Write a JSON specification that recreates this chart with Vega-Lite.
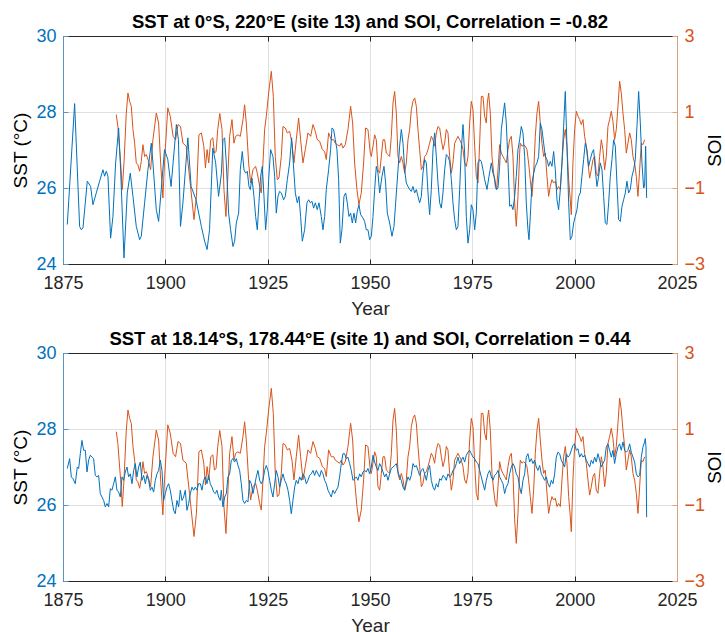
{
  "$schema": "https://vega.github.io/schema/vega-lite/v6.json",
  "padding": {"left": 11, "top": 12, "right": 0, "bottom": 0},
  "spacing": 11,
  "config": {
    "font": "Liberation Sans",
    "view": {"stroke": null},
    "axis": {
      "labelFontSize": 18,
      "titleFontSize": 19,
      "titleFontWeight": "normal",
      "labelColor": "#262626",
      "titleColor": "#262626",
      "tickColor": "#262626",
      "domainColor": "#262626",
      "gridColor": "#dfdfdf",
      "gridOpacity": 1,
      "tickSize": -5,
      "labelPadding": 12,
      "labelFlush": false,
      "domainWidth": 1,
      "tickWidth": 1
    },
    "axisX": {"labelPadding": 15},
    "title": {"fontSize": 18.5, "fontWeight": "bold", "color": "#000000", "offset": -4}
  },
  "datasets": {
    "soi": [
      {"year": 1888.02, "v": 0.93}, {"year": 1888.4, "v": 0.62}, {"year": 1889.08, "v": -0.34}, {"year": 1889.48, "v": -1.04},
      {"year": 1889.9, "v": -0.34}, {"year": 1890.46, "v": 0.97}, {"year": 1890.87, "v": 1.5}, {"year": 1891.28, "v": 1.28},
      {"year": 1891.68, "v": 1.15}, {"year": 1892.09, "v": 0.54}, {"year": 1892.5, "v": 0.18}, {"year": 1892.9, "v": -0.34},
      {"year": 1893.3, "v": -0.39}, {"year": 1893.72, "v": -0.56}, {"year": 1894.12, "v": -0.3}, {"year": 1894.53, "v": 0.14},
      {"year": 1894.94, "v": -0.17}, {"year": 1895.35, "v": -0.12}, {"year": 1895.92, "v": -0.3}, {"year": 1896.4, "v": -0.52},
      {"year": 1896.97, "v": 0.27}, {"year": 1897.79, "v": 0.97}, {"year": 1898.36, "v": 0.71}, {"year": 1898.85, "v": -0.34},
      {"year": 1899.4, "v": -1.26}, {"year": 1899.8, "v": -0.34}, {"year": 1900.6, "v": 1.11}, {"year": 1901.2, "v": 0.89},
      {"year": 1901.9, "v": 0.36}, {"year": 1902.5, "v": 0.27}, {"year": 1903.1, "v": 0.67}, {"year": 1903.7, "v": 0.62},
      {"year": 1904.3, "v": 0.18}, {"year": 1905.1, "v": 0.1}, {"year": 1905.9, "v": -0.69}, {"year": 1907.0, "v": -1.83},
      {"year": 1907.6, "v": -1.22}, {"year": 1908.2, "v": 0.4}, {"year": 1908.8, "v": 0.45}, {"year": 1909.4, "v": 0.1},
      {"year": 1909.8, "v": -0.47}, {"year": 1910.2, "v": 0.01}, {"year": 1910.6, "v": -0.34}, {"year": 1911.1, "v": 0.27},
      {"year": 1911.6, "v": 0.32}, {"year": 1912.0, "v": -0.08}, {"year": 1912.4, "v": -0.04}, {"year": 1912.8, "v": 0.54},
      {"year": 1913.3, "v": 0.96}, {"year": 1913.84, "v": 0.54}, {"year": 1914.32, "v": -1.04}, {"year": 1914.81, "v": -1.75},
      {"year": 1915.3, "v": -0.61}, {"year": 1915.71, "v": 0.36}, {"year": 1916.28, "v": 0.8}, {"year": 1916.77, "v": 0.18},
      {"year": 1917.17, "v": 0.36}, {"year": 1917.74, "v": 0.4}, {"year": 1918.31, "v": 0.36}, {"year": 1918.97, "v": 0.8},
      {"year": 1919.37, "v": 1.19}, {"year": 1919.78, "v": 0.71}, {"year": 1920.35, "v": -0.34}, {"year": 1920.84, "v": -0.87},
      {"year": 1921.41, "v": -0.52}, {"year": 1922.06, "v": -0.43}, {"year": 1922.47, "v": -0.61}, {"year": 1923.04, "v": -0.96},
      {"year": 1923.44, "v": -1.13}, {"year": 1923.85, "v": -0.34}, {"year": 1924.26, "v": 0.54}, {"year": 1924.67, "v": 0.89},
      {"year": 1925.24, "v": 1.5}, {"year": 1925.89, "v": 2.07}, {"year": 1926.38, "v": 1.41}, {"year": 1926.86, "v": -0.17},
      {"year": 1927.35, "v": -0.78}, {"year": 1927.76, "v": -0.74}, {"year": 1928.33, "v": -0.17}, {"year": 1928.74, "v": 0.62},
      {"year": 1929.31, "v": 0.58}, {"year": 1929.8, "v": 0.45}, {"year": 1930.37, "v": 0.49}, {"year": 1930.94, "v": 0.18},
      {"year": 1931.42, "v": -0.34}, {"year": 1931.99, "v": 0.27}, {"year": 1932.56, "v": 0.84}, {"year": 1933.05, "v": 0.27},
      {"year": 1933.62, "v": -0.34}, {"year": 1934.19, "v": 0.01}, {"year": 1934.84, "v": 0.45}, {"year": 1935.5, "v": 0.36},
      {"year": 1936.07, "v": 0.67}, {"year": 1936.64, "v": 0.49}, {"year": 1937.12, "v": 0.27}, {"year": 1937.7, "v": 0.23},
      {"year": 1938.35, "v": 0.01}, {"year": 1938.91, "v": -0.04}, {"year": 1939.32, "v": -0.25}, {"year": 1939.89, "v": 0.45},
      {"year": 1940.54, "v": 0.27}, {"year": 1941.11, "v": 0.27}, {"year": 1941.52, "v": 0.18}, {"year": 1942.01, "v": 0.14},
      {"year": 1942.58, "v": 0.1}, {"year": 1942.99, "v": 0.18}, {"year": 1943.4, "v": 0.05}, {"year": 1943.96, "v": 0.14},
      {"year": 1944.62, "v": 0.54}, {"year": 1945.27, "v": 1.15}, {"year": 1945.76, "v": 0.71}, {"year": 1946.24, "v": -0.34},
      {"year": 1946.81, "v": -1.04}, {"year": 1947.3, "v": -1.44}, {"year": 1947.87, "v": -1.13}, {"year": 1948.44, "v": -0.34},
      {"year": 1948.93, "v": 0.58}, {"year": 1949.5, "v": 0.54}, {"year": 1950.07, "v": -0.08}, {"year": 1950.32, "v": -0.17},
      {"year": 1950.73, "v": 0.1}, {"year": 1951.14, "v": 0.4}, {"year": 1951.54, "v": 0.27}, {"year": 1951.95, "v": -0.52},
      {"year": 1952.36, "v": -0.61}, {"year": 1952.77, "v": -0.17}, {"year": 1953.17, "v": 0.27}, {"year": 1953.58, "v": 0.27},
      {"year": 1953.99, "v": -0.08}, {"year": 1954.39, "v": -0.12}, {"year": 1954.8, "v": -0.17}, {"year": 1955.21, "v": 0.36},
      {"year": 1955.62, "v": 1.24}, {"year": 1956.02, "v": 1.54}, {"year": 1956.43, "v": 0.97}, {"year": 1956.84, "v": -0.17},
      {"year": 1957.24, "v": -0.34}, {"year": 1957.65, "v": -0.17}, {"year": 1958.06, "v": -0.34}, {"year": 1958.47, "v": -0.61},
      {"year": 1958.87, "v": -0.34}, {"year": 1959.28, "v": 0.27}, {"year": 1959.69, "v": 0.54}, {"year": 1960.09, "v": 1.06},
      {"year": 1960.5, "v": 1.28}, {"year": 1960.91, "v": 1.37}, {"year": 1961.32, "v": 1.15}, {"year": 1961.72, "v": 0.54},
      {"year": 1962.13, "v": 0.01}, {"year": 1962.54, "v": -0.52}, {"year": 1962.94, "v": -0.43}, {"year": 1963.35, "v": -0.17},
      {"year": 1963.76, "v": -0.12}, {"year": 1964.17, "v": 0.01}, {"year": 1964.57, "v": 0.18}, {"year": 1964.98, "v": 0.36},
      {"year": 1965.39, "v": 0.27}, {"year": 1965.79, "v": 0.1}, {"year": 1966.2, "v": 0.45}, {"year": 1966.61, "v": 0.62},
      {"year": 1967.02, "v": 0.58}, {"year": 1967.42, "v": 0.27}, {"year": 1967.83, "v": 0.01}, {"year": 1968.24, "v": 0.18},
      {"year": 1968.64, "v": 0.54}, {"year": 1969.05, "v": 0.45}, {"year": 1969.46, "v": -0.17}, {"year": 1969.87, "v": -0.61},
      {"year": 1970.27, "v": -0.34}, {"year": 1970.68, "v": 0.18}, {"year": 1971.09, "v": 0.27}, {"year": 1971.49, "v": 0.36},
      {"year": 1971.9, "v": 0.27}, {"year": 1972.31, "v": 0.18}, {"year": 1972.72, "v": 0.01}, {"year": 1973.12, "v": -0.34},
      {"year": 1973.53, "v": -0.43}, {"year": 1973.94, "v": -0.17}, {"year": 1974.35, "v": 0.71}, {"year": 1974.75, "v": 1.28},
      {"year": 1975.16, "v": 1.06}, {"year": 1975.57, "v": 0.1}, {"year": 1975.97, "v": -0.69}, {"year": 1976.38, "v": -0.87},
      {"year": 1976.79, "v": 0.18}, {"year": 1977.19, "v": 1.41}, {"year": 1977.6, "v": 1.41}, {"year": 1978.01, "v": 0.89},
      {"year": 1978.42, "v": 0.71}, {"year": 1978.66, "v": 1.24}, {"year": 1978.99, "v": 1.5}, {"year": 1979.39, "v": 0.97},
      {"year": 1979.8, "v": -0.17}, {"year": 1980.21, "v": -0.61}, {"year": 1980.62, "v": -0.96}, {"year": 1980.94, "v": -1.04},
      {"year": 1981.27, "v": -0.52}, {"year": 1981.67, "v": 0.14}, {"year": 1982.08, "v": -0.08}, {"year": 1982.49, "v": -0.17},
      {"year": 1982.89, "v": -0.25}, {"year": 1983.3, "v": -0.34}, {"year": 1983.71, "v": 0.01}, {"year": 1984.12, "v": 0.27},
      {"year": 1984.52, "v": 0.36}, {"year": 1984.93, "v": -0.17}, {"year": 1985.34, "v": -1.39}, {"year": 1985.74, "v": -2.01},
      {"year": 1986.15, "v": -1.22}, {"year": 1986.56, "v": -0.08}, {"year": 1986.72, "v": 0.18}, {"year": 1987.13, "v": 0.1},
      {"year": 1987.53, "v": 0.14}, {"year": 1987.94, "v": 0.1}, {"year": 1988.35, "v": 0.01}, {"year": 1988.75, "v": -0.34},
      {"year": 1989.16, "v": -0.78}, {"year": 1989.57, "v": -1.22}, {"year": 1989.98, "v": -0.61}, {"year": 1990.38, "v": 0.36},
      {"year": 1990.79, "v": 0.97}, {"year": 1991.2, "v": 1.28}, {"year": 1991.6, "v": 0.71}, {"year": 1992.01, "v": 0.18},
      {"year": 1992.42, "v": -0.17}, {"year": 1992.83, "v": -0.08}, {"year": 1993.23, "v": -0.69}, {"year": 1993.64, "v": -1.22},
      {"year": 1994.05, "v": -0.96}, {"year": 1994.45, "v": -0.78}, {"year": 1994.86, "v": -0.87}, {"year": 1995.27, "v": -0.82},
      {"year": 1995.68, "v": -1.04}, {"year": 1996.08, "v": -0.96}, {"year": 1996.49, "v": -1.04}, {"year": 1996.9, "v": -0.34},
      {"year": 1997.3, "v": 0.27}, {"year": 1997.71, "v": 0.54}, {"year": 1998.12, "v": 0.1}, {"year": 1998.53, "v": -0.78},
      {"year": 1998.93, "v": -1.31}, {"year": 1999.18, "v": -1.7}, {"year": 1999.58, "v": -0.34}, {"year": 1999.99, "v": 0.54},
      {"year": 2000.4, "v": 1.02}, {"year": 2000.81, "v": 0.89}, {"year": 2001.21, "v": 0.8}, {"year": 2001.62, "v": 0.67},
      {"year": 2002.03, "v": 0.8}, {"year": 2002.43, "v": 0.36}, {"year": 2002.84, "v": 0.1}, {"year": 2003.25, "v": -0.34},
      {"year": 2003.66, "v": -0.74}, {"year": 2004.06, "v": -0.52}, {"year": 2004.47, "v": -0.25}, {"year": 2004.88, "v": -0.17},
      {"year": 2005.28, "v": -0.61}, {"year": 2005.69, "v": -0.69}, {"year": 2006.1, "v": -0.17}, {"year": 2006.51, "v": 0.27},
      {"year": 2006.91, "v": 0.01}, {"year": 2007.32, "v": -0.52}, {"year": 2007.73, "v": -0.17}, {"year": 2008.13, "v": 0.62},
      {"year": 2008.54, "v": 0.8}, {"year": 2008.95, "v": 1.02}, {"year": 2009.36, "v": 0.75}, {"year": 2009.76, "v": 0.27},
      {"year": 2010.17, "v": 0.54}, {"year": 2010.58, "v": 1.15}, {"year": 2010.98, "v": 1.81}, {"year": 2011.39, "v": 1.5},
      {"year": 2011.8, "v": 0.97}, {"year": 2012.21, "v": 0.54}, {"year": 2012.61, "v": -0.08}, {"year": 2013.02, "v": 0.18},
      {"year": 2013.43, "v": 0.45}, {"year": 2013.83, "v": 0.27}, {"year": 2014.24, "v": -0.17}, {"year": 2014.65, "v": -0.34},
      {"year": 2015.06, "v": -0.69}, {"year": 2015.46, "v": -1.22}, {"year": 2015.87, "v": -0.52}, {"year": 2016.28, "v": 0.18},
      {"year": 2016.69, "v": 0.14}, {"year": 2017.09, "v": 0.27}
    ],
    "sst13": [
      {"year": 1876.05, "v": 25.04}, {"year": 1877.84, "v": 28.22}, {"year": 1879.06, "v": 24.99}, {"year": 1879.47, "v": 24.9},
      {"year": 1879.88, "v": 24.95}, {"year": 1880.93, "v": 26.18}, {"year": 1881.75, "v": 26.04}, {"year": 1882.32, "v": 25.56},
      {"year": 1883.13, "v": 25.87}, {"year": 1883.95, "v": 26.18}, {"year": 1884.76, "v": 26.48}, {"year": 1885.17, "v": 26.31},
      {"year": 1885.58, "v": 26.44}, {"year": 1885.98, "v": 26.31}, {"year": 1886.63, "v": 24.68}, {"year": 1887.2, "v": 25.25},
      {"year": 1887.86, "v": 26.66}, {"year": 1888.59, "v": 27.58}, {"year": 1889.08, "v": 26.48}, {"year": 1889.9, "v": 24.16},
      {"year": 1890.7, "v": 25.87}, {"year": 1891.44, "v": 26.39}, {"year": 1892.09, "v": 25.78}, {"year": 1892.9, "v": 24.99},
      {"year": 1893.72, "v": 24.64}, {"year": 1894.12, "v": 24.73}, {"year": 1894.94, "v": 25.61}, {"year": 1895.75, "v": 26.48},
      {"year": 1896.57, "v": 27.18}, {"year": 1896.97, "v": 26.66}, {"year": 1897.79, "v": 25.43}, {"year": 1898.36, "v": 25.12},
      {"year": 1899.0, "v": 25.96}, {"year": 1899.8, "v": 27.01}, {"year": 1900.6, "v": 26.75}, {"year": 1901.4, "v": 26.04},
      {"year": 1902.7, "v": 27.67}, {"year": 1903.2, "v": 27.27}, {"year": 1903.7, "v": 24.99}, {"year": 1904.3, "v": 25.61},
      {"year": 1905.5, "v": 27.32}, {"year": 1906.3, "v": 26.04}, {"year": 1907.5, "v": 25.69}, {"year": 1908.8, "v": 24.99},
      {"year": 1909.6, "v": 24.6}, {"year": 1910.2, "v": 24.38}, {"year": 1910.8, "v": 24.9}, {"year": 1911.6, "v": 27.05},
      {"year": 1912.3, "v": 26.66}, {"year": 1913.0, "v": 25.78}, {"year": 1913.7, "v": 26.39}, {"year": 1914.08, "v": 27.27},
      {"year": 1914.49, "v": 27.32}, {"year": 1914.9, "v": 26.66}, {"year": 1915.46, "v": 25.34}, {"year": 1915.95, "v": 24.9},
      {"year": 1916.52, "v": 24.46}, {"year": 1916.93, "v": 24.6}, {"year": 1917.34, "v": 25.08}, {"year": 1917.91, "v": 25.34},
      {"year": 1918.31, "v": 26.48}, {"year": 1918.8, "v": 26.96}, {"year": 1919.21, "v": 26.48}, {"year": 1919.62, "v": 26.39},
      {"year": 1920.02, "v": 26.44}, {"year": 1920.43, "v": 26.04}, {"year": 1920.76, "v": 25.96}, {"year": 1921.16, "v": 26.26},
      {"year": 1921.65, "v": 25.78}, {"year": 1922.06, "v": 25.25}, {"year": 1922.47, "v": 24.9}, {"year": 1922.87, "v": 25.61},
      {"year": 1923.28, "v": 26.31}, {"year": 1923.69, "v": 26.57}, {"year": 1924.1, "v": 25.78}, {"year": 1924.5, "v": 24.9},
      {"year": 1924.91, "v": 25.43}, {"year": 1925.24, "v": 26.22}, {"year": 1925.72, "v": 27.01}, {"year": 1926.29, "v": 26.83},
      {"year": 1926.7, "v": 26.31}, {"year": 1927.11, "v": 25.34}, {"year": 1927.52, "v": 25.78}, {"year": 1927.92, "v": 25.91},
      {"year": 1928.33, "v": 25.87}, {"year": 1928.9, "v": 25.69}, {"year": 1929.31, "v": 25.78}, {"year": 1929.8, "v": 26.22},
      {"year": 1930.37, "v": 26.66}, {"year": 1930.85, "v": 27.32}, {"year": 1931.26, "v": 26.66}, {"year": 1931.75, "v": 25.87},
      {"year": 1932.24, "v": 25.61}, {"year": 1932.65, "v": 25.78}, {"year": 1933.05, "v": 25.25}, {"year": 1933.46, "v": 24.6},
      {"year": 1934.03, "v": 24.9}, {"year": 1934.6, "v": 25.61}, {"year": 1935.01, "v": 25.69}, {"year": 1935.41, "v": 25.61},
      {"year": 1935.82, "v": 25.65}, {"year": 1936.23, "v": 25.47}, {"year": 1936.64, "v": 25.61}, {"year": 1937.12, "v": 25.43},
      {"year": 1937.53, "v": 25.61}, {"year": 1938.1, "v": 25.25}, {"year": 1938.51, "v": 24.9}, {"year": 1938.92, "v": 25.25},
      {"year": 1939.32, "v": 25.96}, {"year": 1939.89, "v": 26.48}, {"year": 1940.38, "v": 27.01}, {"year": 1940.71, "v": 27.58},
      {"year": 1941.11, "v": 27.54}, {"year": 1941.52, "v": 27.27}, {"year": 1941.93, "v": 27.01}, {"year": 1942.34, "v": 26.22},
      {"year": 1942.74, "v": 24.55}, {"year": 1943.15, "v": 24.9}, {"year": 1943.64, "v": 25.78}, {"year": 1944.05, "v": 25.87},
      {"year": 1944.45, "v": 25.61}, {"year": 1944.86, "v": 25.25}, {"year": 1945.27, "v": 25.34}, {"year": 1945.68, "v": 25.08},
      {"year": 1946.08, "v": 25.34}, {"year": 1946.49, "v": 25.08}, {"year": 1946.9, "v": 25.39}, {"year": 1947.3, "v": 25.56},
      {"year": 1947.71, "v": 25.3}, {"year": 1948.28, "v": 25.21}, {"year": 1948.69, "v": 25.12}, {"year": 1949.1, "v": 24.9},
      {"year": 1949.5, "v": 24.9}, {"year": 1949.91, "v": 24.64}, {"year": 1950.32, "v": 24.73}, {"year": 1950.73, "v": 25.25},
      {"year": 1951.14, "v": 25.96}, {"year": 1951.54, "v": 26.57}, {"year": 1951.95, "v": 26.39}, {"year": 1952.36, "v": 25.87},
      {"year": 1952.93, "v": 26.31}, {"year": 1953.42, "v": 26.57}, {"year": 1953.82, "v": 26.13}, {"year": 1954.23, "v": 25.34},
      {"year": 1954.8, "v": 25.08}, {"year": 1955.37, "v": 24.73}, {"year": 1955.86, "v": 24.99}, {"year": 1956.27, "v": 25.61},
      {"year": 1956.84, "v": 26.48}, {"year": 1957.24, "v": 27.1}, {"year": 1957.65, "v": 27.54}, {"year": 1958.06, "v": 27.18},
      {"year": 1958.47, "v": 26.48}, {"year": 1958.87, "v": 26.13}, {"year": 1959.28, "v": 26.04}, {"year": 1959.69, "v": 25.96},
      {"year": 1960.09, "v": 25.91}, {"year": 1960.5, "v": 26.04}, {"year": 1960.91, "v": 25.87}, {"year": 1961.32, "v": 25.96},
      {"year": 1961.72, "v": 25.78}, {"year": 1962.13, "v": 25.61}, {"year": 1962.54, "v": 25.78}, {"year": 1962.94, "v": 26.39},
      {"year": 1963.35, "v": 26.75}, {"year": 1963.76, "v": 26.66}, {"year": 1964.17, "v": 25.87}, {"year": 1964.57, "v": 25.3},
      {"year": 1964.98, "v": 25.96}, {"year": 1965.39, "v": 27.01}, {"year": 1965.79, "v": 27.45}, {"year": 1966.2, "v": 26.83},
      {"year": 1966.61, "v": 26.13}, {"year": 1967.02, "v": 25.61}, {"year": 1967.42, "v": 25.47}, {"year": 1967.83, "v": 25.87},
      {"year": 1968.24, "v": 26.48}, {"year": 1968.64, "v": 26.88}, {"year": 1969.05, "v": 26.83}, {"year": 1969.46, "v": 26.7},
      {"year": 1969.87, "v": 26.22}, {"year": 1970.27, "v": 25.61}, {"year": 1970.68, "v": 25.17}, {"year": 1971.09, "v": 24.9},
      {"year": 1971.49, "v": 24.99}, {"year": 1971.9, "v": 25.96}, {"year": 1972.31, "v": 27.01}, {"year": 1972.72, "v": 27.67},
      {"year": 1973.12, "v": 26.92}, {"year": 1973.53, "v": 25.25}, {"year": 1973.94, "v": 24.55}, {"year": 1974.35, "v": 24.9},
      {"year": 1974.75, "v": 25.56}, {"year": 1975.16, "v": 25.43}, {"year": 1975.57, "v": 24.9}, {"year": 1975.97, "v": 25.34},
      {"year": 1976.38, "v": 26.66}, {"year": 1976.79, "v": 26.75}, {"year": 1977.19, "v": 26.7}, {"year": 1977.6, "v": 26.48},
      {"year": 1978.01, "v": 26.22}, {"year": 1978.58, "v": 25.96}, {"year": 1979.07, "v": 26.31}, {"year": 1979.64, "v": 26.66},
      {"year": 1980.04, "v": 26.39}, {"year": 1980.45, "v": 26.26}, {"year": 1980.86, "v": 25.96}, {"year": 1981.27, "v": 26.0},
      {"year": 1981.67, "v": 26.57}, {"year": 1982.08, "v": 27.54}, {"year": 1982.49, "v": 27.89}, {"year": 1982.89, "v": 28.24},
      {"year": 1983.3, "v": 27.71}, {"year": 1983.71, "v": 26.66}, {"year": 1984.12, "v": 25.52}, {"year": 1984.52, "v": 25.56},
      {"year": 1984.93, "v": 25.43}, {"year": 1985.34, "v": 25.78}, {"year": 1985.74, "v": 26.31}, {"year": 1986.15, "v": 27.01},
      {"year": 1986.56, "v": 27.27}, {"year": 1986.96, "v": 27.62}, {"year": 1987.37, "v": 27.45}, {"year": 1987.78, "v": 26.83},
      {"year": 1988.18, "v": 25.61}, {"year": 1988.59, "v": 24.9}, {"year": 1988.84, "v": 24.64}, {"year": 1989.16, "v": 25.25},
      {"year": 1989.57, "v": 26.13}, {"year": 1989.98, "v": 26.39}, {"year": 1990.38, "v": 26.57}, {"year": 1990.79, "v": 26.66},
      {"year": 1991.2, "v": 26.83}, {"year": 1991.6, "v": 27.71}, {"year": 1992.01, "v": 27.54}, {"year": 1992.42, "v": 27.18},
      {"year": 1992.83, "v": 26.83}, {"year": 1993.23, "v": 26.75}, {"year": 1993.64, "v": 26.57}, {"year": 1994.05, "v": 26.7},
      {"year": 1994.45, "v": 26.57}, {"year": 1994.86, "v": 26.96}, {"year": 1995.27, "v": 26.48}, {"year": 1995.68, "v": 25.69},
      {"year": 1996.08, "v": 25.43}, {"year": 1996.49, "v": 25.96}, {"year": 1996.9, "v": 26.66}, {"year": 1997.3, "v": 27.62},
      {"year": 1997.71, "v": 28.54}, {"year": 1998.12, "v": 27.1}, {"year": 1998.53, "v": 25.61}, {"year": 1998.93, "v": 24.64},
      {"year": 1999.34, "v": 24.73}, {"year": 1999.75, "v": 25.08}, {"year": 2000.15, "v": 25.25}, {"year": 2000.56, "v": 25.43},
      {"year": 2000.97, "v": 25.78}, {"year": 2001.38, "v": 25.87}, {"year": 2001.78, "v": 26.31}, {"year": 2002.19, "v": 26.75},
      {"year": 2002.6, "v": 27.18}, {"year": 2003.0, "v": 27.01}, {"year": 2003.41, "v": 26.57}, {"year": 2003.82, "v": 26.75},
      {"year": 2004.23, "v": 26.92}, {"year": 2004.63, "v": 27.01}, {"year": 2005.04, "v": 26.48}, {"year": 2005.45, "v": 26.04},
      {"year": 2005.86, "v": 26.31}, {"year": 2006.26, "v": 26.66}, {"year": 2006.67, "v": 26.48}, {"year": 2007.08, "v": 25.78},
      {"year": 2007.48, "v": 25.08}, {"year": 2007.89, "v": 25.04}, {"year": 2008.3, "v": 25.61}, {"year": 2008.71, "v": 26.31},
      {"year": 2009.11, "v": 26.75}, {"year": 2009.52, "v": 27.27}, {"year": 2009.93, "v": 27.1}, {"year": 2010.33, "v": 26.13},
      {"year": 2010.74, "v": 25.17}, {"year": 2011.15, "v": 25.12}, {"year": 2011.56, "v": 25.52}, {"year": 2011.96, "v": 25.69},
      {"year": 2012.37, "v": 25.87}, {"year": 2012.78, "v": 26.18}, {"year": 2013.18, "v": 25.87}, {"year": 2013.59, "v": 25.96},
      {"year": 2014.0, "v": 26.31}, {"year": 2014.41, "v": 26.48}, {"year": 2014.81, "v": 26.75}, {"year": 2015.22, "v": 27.62},
      {"year": 2015.63, "v": 28.54}, {"year": 2016.04, "v": 27.71}, {"year": 2016.44, "v": 26.66}, {"year": 2016.85, "v": 26.0},
      {"year": 2017.09, "v": 26.04}, {"year": 2017.34, "v": 27.1}, {"year": 2017.58, "v": 25.74}
    ],
    "sst1": [
      {"year": 1876.05, "v": 26.96}, {"year": 1876.62, "v": 27.22}, {"year": 1877.03, "v": 26.74}, {"year": 1877.44, "v": 26.69},
      {"year": 1878.0, "v": 26.56}, {"year": 1878.49, "v": 27.0}, {"year": 1878.82, "v": 26.96}, {"year": 1879.23, "v": 27.35},
      {"year": 1879.63, "v": 27.7}, {"year": 1880.04, "v": 27.44}, {"year": 1880.45, "v": 27.44}, {"year": 1880.86, "v": 26.87},
      {"year": 1881.26, "v": 27.18}, {"year": 1881.67, "v": 27.31}, {"year": 1882.08, "v": 27.26}, {"year": 1882.48, "v": 27.22},
      {"year": 1882.89, "v": 26.78}, {"year": 1883.3, "v": 26.74}, {"year": 1883.7, "v": 26.78}, {"year": 1884.11, "v": 26.3},
      {"year": 1884.52, "v": 26.21}, {"year": 1884.93, "v": 26.12}, {"year": 1885.33, "v": 25.95}, {"year": 1885.74, "v": 26.04},
      {"year": 1886.15, "v": 25.95}, {"year": 1886.56, "v": 26.43}, {"year": 1886.96, "v": 26.39}, {"year": 1887.37, "v": 26.56},
      {"year": 1887.78, "v": 26.74}, {"year": 1888.18, "v": 26.39}, {"year": 1888.59, "v": 26.34}, {"year": 1889.0, "v": 26.21},
      {"year": 1889.41, "v": 26.74}, {"year": 1889.81, "v": 26.65}, {"year": 1890.22, "v": 26.87}, {"year": 1890.63, "v": 27.0},
      {"year": 1891.03, "v": 26.74}, {"year": 1891.44, "v": 26.82}, {"year": 1891.85, "v": 26.56}, {"year": 1892.26, "v": 26.91},
      {"year": 1892.66, "v": 27.09}, {"year": 1893.07, "v": 26.74}, {"year": 1893.48, "v": 27.0}, {"year": 1893.88, "v": 27.13},
      {"year": 1894.29, "v": 26.65}, {"year": 1894.7, "v": 26.78}, {"year": 1895.11, "v": 26.56}, {"year": 1895.51, "v": 26.78},
      {"year": 1895.92, "v": 26.65}, {"year": 1896.33, "v": 26.39}, {"year": 1896.73, "v": 26.47}, {"year": 1897.14, "v": 26.34},
      {"year": 1897.55, "v": 26.65}, {"year": 1897.96, "v": 26.82}, {"year": 1898.36, "v": 26.91}, {"year": 1898.77, "v": 27.18},
      {"year": 1899.18, "v": 26.91}, {"year": 1899.58, "v": 26.12}, {"year": 1899.99, "v": 26.3}, {"year": 1900.4, "v": 26.47},
      {"year": 1900.8, "v": 26.56}, {"year": 1901.21, "v": 26.39}, {"year": 1901.62, "v": 26.12}, {"year": 1902.03, "v": 25.86},
      {"year": 1902.43, "v": 25.77}, {"year": 1902.84, "v": 26.12}, {"year": 1903.25, "v": 25.95}, {"year": 1903.66, "v": 26.39},
      {"year": 1904.06, "v": 26.12}, {"year": 1904.47, "v": 26.21}, {"year": 1904.88, "v": 26.39}, {"year": 1905.28, "v": 25.86},
      {"year": 1905.69, "v": 26.04}, {"year": 1906.1, "v": 26.3}, {"year": 1906.51, "v": 26.47}, {"year": 1906.91, "v": 26.39},
      {"year": 1907.32, "v": 26.47}, {"year": 1907.73, "v": 26.39}, {"year": 1908.13, "v": 26.56}, {"year": 1908.54, "v": 26.56},
      {"year": 1908.95, "v": 26.39}, {"year": 1909.36, "v": 26.65}, {"year": 1909.76, "v": 26.74}, {"year": 1910.17, "v": 26.56},
      {"year": 1910.58, "v": 26.78}, {"year": 1910.98, "v": 26.56}, {"year": 1911.39, "v": 26.47}, {"year": 1911.8, "v": 26.34},
      {"year": 1912.21, "v": 26.3}, {"year": 1912.61, "v": 26.39}, {"year": 1913.02, "v": 26.21}, {"year": 1913.43, "v": 26.12},
      {"year": 1913.67, "v": 26.39}, {"year": 1914.08, "v": 25.95}, {"year": 1914.49, "v": 26.21}, {"year": 1914.9, "v": 26.3},
      {"year": 1915.3, "v": 26.74}, {"year": 1915.71, "v": 26.82}, {"year": 1916.12, "v": 27.18}, {"year": 1916.52, "v": 27.22},
      {"year": 1916.93, "v": 27.13}, {"year": 1917.34, "v": 27.22}, {"year": 1917.74, "v": 27.04}, {"year": 1918.15, "v": 26.91},
      {"year": 1918.56, "v": 26.56}, {"year": 1918.97, "v": 26.12}, {"year": 1919.37, "v": 26.04}, {"year": 1919.78, "v": 26.12},
      {"year": 1920.19, "v": 26.08}, {"year": 1920.59, "v": 26.65}, {"year": 1921.0, "v": 26.56}, {"year": 1921.41, "v": 26.3},
      {"year": 1921.82, "v": 26.52}, {"year": 1922.22, "v": 26.74}, {"year": 1922.63, "v": 26.91}, {"year": 1923.04, "v": 26.65},
      {"year": 1923.44, "v": 26.56}, {"year": 1923.85, "v": 26.65}, {"year": 1924.26, "v": 26.91}, {"year": 1924.67, "v": 27.04},
      {"year": 1925.07, "v": 26.91}, {"year": 1925.48, "v": 26.65}, {"year": 1925.89, "v": 26.39}, {"year": 1926.29, "v": 26.21},
      {"year": 1926.7, "v": 26.56}, {"year": 1927.11, "v": 26.91}, {"year": 1927.52, "v": 26.74}, {"year": 1927.92, "v": 26.47},
      {"year": 1928.33, "v": 26.65}, {"year": 1928.74, "v": 26.82}, {"year": 1929.14, "v": 26.65}, {"year": 1929.55, "v": 26.56},
      {"year": 1929.96, "v": 26.39}, {"year": 1930.37, "v": 26.12}, {"year": 1930.77, "v": 25.77}, {"year": 1931.18, "v": 26.12},
      {"year": 1931.59, "v": 26.47}, {"year": 1931.99, "v": 26.65}, {"year": 1932.4, "v": 26.56}, {"year": 1932.81, "v": 26.74},
      {"year": 1933.22, "v": 26.65}, {"year": 1933.62, "v": 26.82}, {"year": 1934.03, "v": 26.74}, {"year": 1934.44, "v": 26.56},
      {"year": 1934.84, "v": 26.65}, {"year": 1935.25, "v": 26.78}, {"year": 1935.66, "v": 26.82}, {"year": 1936.07, "v": 26.91},
      {"year": 1936.47, "v": 26.78}, {"year": 1936.88, "v": 26.91}, {"year": 1937.29, "v": 26.82}, {"year": 1937.69, "v": 26.74},
      {"year": 1938.1, "v": 26.91}, {"year": 1938.51, "v": 26.82}, {"year": 1938.92, "v": 26.65}, {"year": 1939.32, "v": 26.56},
      {"year": 1939.73, "v": 26.39}, {"year": 1940.14, "v": 26.3}, {"year": 1940.54, "v": 26.21}, {"year": 1940.95, "v": 26.39},
      {"year": 1941.36, "v": 26.3}, {"year": 1941.76, "v": 26.39}, {"year": 1942.17, "v": 26.47}, {"year": 1942.58, "v": 26.74},
      {"year": 1942.99, "v": 27.09}, {"year": 1943.39, "v": 27.35}, {"year": 1943.8, "v": 27.35}, {"year": 1944.21, "v": 27.22},
      {"year": 1944.61, "v": 27.26}, {"year": 1945.02, "v": 27.09}, {"year": 1945.43, "v": 26.91}, {"year": 1945.84, "v": 26.65},
      {"year": 1946.24, "v": 26.69}, {"year": 1946.65, "v": 26.74}, {"year": 1947.06, "v": 26.65}, {"year": 1947.47, "v": 26.82},
      {"year": 1947.87, "v": 26.74}, {"year": 1948.28, "v": 26.87}, {"year": 1948.69, "v": 26.91}, {"year": 1949.09, "v": 26.87},
      {"year": 1949.5, "v": 26.96}, {"year": 1949.91, "v": 26.82}, {"year": 1950.32, "v": 27.0}, {"year": 1950.73, "v": 27.31},
      {"year": 1951.14, "v": 27.13}, {"year": 1951.54, "v": 27.0}, {"year": 1951.95, "v": 26.91}, {"year": 1952.36, "v": 27.09},
      {"year": 1952.77, "v": 27.0}, {"year": 1953.17, "v": 26.87}, {"year": 1953.58, "v": 26.74}, {"year": 1953.99, "v": 26.82},
      {"year": 1954.39, "v": 26.65}, {"year": 1954.8, "v": 26.82}, {"year": 1955.21, "v": 26.96}, {"year": 1955.62, "v": 27.0},
      {"year": 1956.02, "v": 27.04}, {"year": 1956.43, "v": 27.09}, {"year": 1956.84, "v": 26.87}, {"year": 1957.24, "v": 26.74},
      {"year": 1957.65, "v": 26.65}, {"year": 1958.06, "v": 26.47}, {"year": 1958.47, "v": 26.39}, {"year": 1958.87, "v": 26.56},
      {"year": 1959.28, "v": 26.74}, {"year": 1959.69, "v": 26.65}, {"year": 1960.09, "v": 26.78}, {"year": 1960.5, "v": 27.09},
      {"year": 1960.91, "v": 27.0}, {"year": 1961.32, "v": 27.04}, {"year": 1961.72, "v": 26.91}, {"year": 1962.13, "v": 26.78},
      {"year": 1962.54, "v": 26.91}, {"year": 1962.94, "v": 26.96}, {"year": 1963.35, "v": 26.82}, {"year": 1963.76, "v": 26.65},
      {"year": 1964.17, "v": 26.91}, {"year": 1964.57, "v": 27.04}, {"year": 1964.98, "v": 26.65}, {"year": 1965.39, "v": 26.47},
      {"year": 1965.79, "v": 26.39}, {"year": 1966.2, "v": 26.56}, {"year": 1966.61, "v": 26.47}, {"year": 1967.02, "v": 26.69},
      {"year": 1967.42, "v": 26.65}, {"year": 1967.83, "v": 26.78}, {"year": 1968.24, "v": 26.74}, {"year": 1968.64, "v": 26.65},
      {"year": 1969.05, "v": 26.82}, {"year": 1969.46, "v": 26.74}, {"year": 1969.87, "v": 26.78}, {"year": 1970.27, "v": 26.91},
      {"year": 1970.68, "v": 26.96}, {"year": 1971.09, "v": 27.09}, {"year": 1971.49, "v": 27.26}, {"year": 1971.9, "v": 27.09},
      {"year": 1972.31, "v": 27.18}, {"year": 1972.72, "v": 27.26}, {"year": 1973.12, "v": 27.13}, {"year": 1973.53, "v": 27.31},
      {"year": 1973.94, "v": 27.39}, {"year": 1974.35, "v": 27.44}, {"year": 1974.75, "v": 27.35}, {"year": 1975.16, "v": 27.26},
      {"year": 1975.57, "v": 27.22}, {"year": 1975.97, "v": 27.13}, {"year": 1976.38, "v": 27.09}, {"year": 1976.79, "v": 26.91},
      {"year": 1977.19, "v": 26.74}, {"year": 1977.6, "v": 26.56}, {"year": 1978.01, "v": 26.39}, {"year": 1978.42, "v": 26.65},
      {"year": 1978.82, "v": 26.82}, {"year": 1979.23, "v": 26.91}, {"year": 1979.64, "v": 26.74}, {"year": 1980.04, "v": 26.65},
      {"year": 1980.45, "v": 26.78}, {"year": 1980.86, "v": 26.82}, {"year": 1981.27, "v": 26.91}, {"year": 1981.67, "v": 26.74},
      {"year": 1982.08, "v": 26.65}, {"year": 1982.49, "v": 26.56}, {"year": 1982.89, "v": 26.3}, {"year": 1983.3, "v": 26.47},
      {"year": 1983.71, "v": 26.56}, {"year": 1984.12, "v": 26.82}, {"year": 1984.52, "v": 27.0}, {"year": 1984.93, "v": 27.09},
      {"year": 1985.34, "v": 27.0}, {"year": 1985.74, "v": 26.82}, {"year": 1986.15, "v": 26.74}, {"year": 1986.56, "v": 26.47},
      {"year": 1986.96, "v": 26.3}, {"year": 1987.37, "v": 26.65}, {"year": 1987.78, "v": 26.82}, {"year": 1988.18, "v": 27.26},
      {"year": 1988.59, "v": 27.35}, {"year": 1989.0, "v": 27.13}, {"year": 1989.41, "v": 27.22}, {"year": 1989.81, "v": 27.09},
      {"year": 1990.22, "v": 27.18}, {"year": 1990.63, "v": 27.0}, {"year": 1991.03, "v": 26.91}, {"year": 1991.44, "v": 27.04},
      {"year": 1991.85, "v": 26.82}, {"year": 1992.26, "v": 26.74}, {"year": 1992.66, "v": 26.65}, {"year": 1993.07, "v": 26.74},
      {"year": 1993.48, "v": 26.56}, {"year": 1993.88, "v": 26.47}, {"year": 1994.29, "v": 26.65}, {"year": 1994.7, "v": 26.56},
      {"year": 1995.11, "v": 26.82}, {"year": 1995.51, "v": 27.26}, {"year": 1995.92, "v": 27.39}, {"year": 1996.33, "v": 27.35},
      {"year": 1996.73, "v": 27.18}, {"year": 1997.14, "v": 27.09}, {"year": 1997.55, "v": 27.0}, {"year": 1997.96, "v": 27.35},
      {"year": 1998.36, "v": 27.26}, {"year": 1998.77, "v": 27.31}, {"year": 1999.18, "v": 27.44}, {"year": 1999.58, "v": 27.57},
      {"year": 1999.99, "v": 27.61}, {"year": 2000.4, "v": 27.44}, {"year": 2000.81, "v": 27.48}, {"year": 2001.21, "v": 27.26},
      {"year": 2001.62, "v": 27.35}, {"year": 2002.03, "v": 27.26}, {"year": 2002.43, "v": 27.31}, {"year": 2002.84, "v": 27.18},
      {"year": 2003.25, "v": 27.09}, {"year": 2003.66, "v": 27.0}, {"year": 2004.06, "v": 27.18}, {"year": 2004.47, "v": 27.09},
      {"year": 2004.88, "v": 27.26}, {"year": 2005.28, "v": 27.13}, {"year": 2005.69, "v": 27.35}, {"year": 2006.1, "v": 27.18},
      {"year": 2006.51, "v": 27.0}, {"year": 2006.91, "v": 27.09}, {"year": 2007.32, "v": 27.18}, {"year": 2007.73, "v": 27.53},
      {"year": 2008.13, "v": 27.61}, {"year": 2008.54, "v": 27.44}, {"year": 2008.95, "v": 27.26}, {"year": 2009.36, "v": 27.44},
      {"year": 2009.76, "v": 27.09}, {"year": 2010.17, "v": 27.35}, {"year": 2010.58, "v": 27.53}, {"year": 2010.98, "v": 27.61},
      {"year": 2011.39, "v": 27.44}, {"year": 2011.8, "v": 27.66}, {"year": 2012.21, "v": 27.44}, {"year": 2012.61, "v": 27.39},
      {"year": 2013.02, "v": 27.44}, {"year": 2013.43, "v": 27.61}, {"year": 2013.83, "v": 27.39}, {"year": 2014.24, "v": 27.26},
      {"year": 2014.65, "v": 27.13}, {"year": 2015.06, "v": 26.82}, {"year": 2015.46, "v": 26.74}, {"year": 2015.87, "v": 26.78},
      {"year": 2016.28, "v": 27.26}, {"year": 2016.69, "v": 27.53}, {"year": 2017.09, "v": 27.66}, {"year": 2017.25, "v": 27.75},
      {"year": 2017.42, "v": 27.53}, {"year": 2017.58, "v": 25.68}
    ]
  },
  "vconcat": [
    {
      "width": 614,
      "height": 228,
      "title": {"text": "SST at 0°S, 220°E (site 13) and SOI, Correlation = -0.82"},
      "layer": [
        {
          "data": {"name": "soi"},
          "mark": {"type": "line", "color": "#D95319", "strokeWidth": 1},
          "encoding": {
            "x": {"field": "year", "type": "quantitative", "scale": {"domain": [1875, 2025], "nice": false, "zero": false},
                  "axis": {"orient": "top", "labels": false, "grid": false, "title": null, "values": [1875, 1900, 1925, 1950, 1975, 2000, 2025]}},
            "y": {"field": "v", "type": "quantitative", "scale": {"domain": [-3, 3], "nice": false, "zero": false},
                  "axis": {"orient": "right", "values": [-3, -1, 1, 3], "grid": false, "title": "SOI", "titleAngle": 270,
                           "titleColor": "#000000", "titlePadding": 20, "labelColor": "#D95319", "domainColor": "#d9a07c", "tickColor": "#d9a07c"}}
          }
        },
        {
          "data": {"name": "sst13"},
          "mark": {"type": "line", "color": "#0072BD", "strokeWidth": 1},
          "encoding": {
            "x": {"field": "year", "type": "quantitative", "scale": {"domain": [1875, 2025], "nice": false, "zero": false},
                  "axis": {"orient": "bottom", "values": [1875, 1900, 1925, 1950, 1975, 2000, 2025], "format": "d", "title": "Year", "grid": true, "titlePadding": 7}},
            "y": {"field": "v", "type": "quantitative", "scale": {"domain": [24, 30], "nice": false, "zero": false},
                  "axis": {"orient": "left", "values": [24, 26, 28, 30], "grid": true, "title": "SST (°C)",
                           "titleColor": "#000000", "titlePadding": 5, "labelColor": "#0072BD", "domainColor": "#5b95c2", "tickColor": "#5b95c2"}}
          }
        }
      ],
      "resolve": {"scale": {"y": "independent"}, "axis": {"x": "independent", "y": "independent"}}
    },
    {
      "width": 614,
      "height": 228,
      "title": {"text": "SST at 18.14°S, 178.44°E (site 1) and SOI, Correlation = 0.44"},
      "layer": [
        {
          "data": {"name": "soi"},
          "mark": {"type": "line", "color": "#D95319", "strokeWidth": 1},
          "encoding": {
            "x": {"field": "year", "type": "quantitative", "scale": {"domain": [1875, 2025], "nice": false, "zero": false},
                  "axis": {"orient": "top", "labels": false, "grid": false, "title": null, "values": [1875, 1900, 1925, 1950, 1975, 2000, 2025]}},
            "y": {"field": "v", "type": "quantitative", "scale": {"domain": [-3, 3], "nice": false, "zero": false},
                  "axis": {"orient": "right", "values": [-3, -1, 1, 3], "grid": false, "title": "SOI", "titleAngle": 270,
                           "titleColor": "#000000", "titlePadding": 20, "labelColor": "#D95319", "domainColor": "#d9a07c", "tickColor": "#d9a07c"}}
          }
        },
        {
          "data": {"name": "sst1"},
          "mark": {"type": "line", "color": "#0072BD", "strokeWidth": 1},
          "encoding": {
            "x": {"field": "year", "type": "quantitative", "scale": {"domain": [1875, 2025], "nice": false, "zero": false},
                  "axis": {"orient": "bottom", "values": [1875, 1900, 1925, 1950, 1975, 2000, 2025], "format": "d", "title": "Year", "grid": true, "titlePadding": 7}},
            "y": {"field": "v", "type": "quantitative", "scale": {"domain": [24, 30], "nice": false, "zero": false},
                  "axis": {"orient": "left", "values": [24, 26, 28, 30], "grid": true, "title": "SST (°C)",
                           "titleColor": "#000000", "titlePadding": 5, "labelColor": "#0072BD", "domainColor": "#5b95c2", "tickColor": "#5b95c2"}}
          }
        }
      ],
      "resolve": {"scale": {"y": "independent"}, "axis": {"x": "independent", "y": "independent"}}
    }
  ]
}
